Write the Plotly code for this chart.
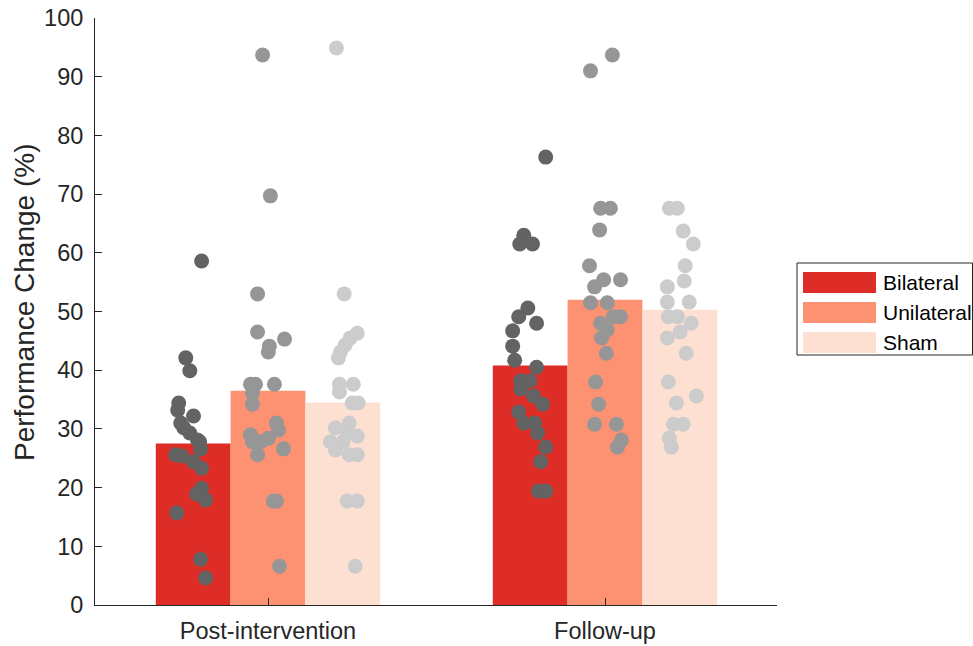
import plotly.graph_objects as go

# ---------------- data ----------------
categories = ["Post-intervention", "Follow-up"]
conditions = ["Bilateral", "Unilateral", "Sham"]

bar_means = {
    "Bilateral": [27.5, 40.8],
    "Unilateral": [36.5, 52.0],
    "Sham": [34.5, 50.3],
}

# individual points: values and horizontal jitter (x units, relative to bar centre)
post_bil_vals = [58.6, 42.1, 39.9, 34.4, 33.2, 32.2, 31.0, 30.2, 29.3, 28.1, 27.8, 26.6, 25.6, 25.4,
                 24.4, 23.3, 19.9, 18.9, 17.9, 15.7, 7.8, 4.6]
post_bil_jit = [0.025, -0.022, -0.010, -0.043, -0.046, 0.001, -0.037, -0.028, -0.010, 0.013, 0.019,
                0.022, -0.052, -0.034, 0.001, 0.025, 0.025, 0.010, 0.037, -0.049, 0.022, 0.037]

post_uni_vals = [93.7, 69.7, 53.0, 46.5, 45.3, 44.1, 43.1, 37.6, 37.6, 37.6, 36.1, 34.2, 31.0, 29.8,
                 29.0, 28.4, 27.8, 27.8, 26.6, 25.6, 17.7, 17.7, 6.6]
post_uni_jit = [-0.016, 0.007, -0.031, -0.031, 0.049, 0.004, 0.001, -0.052, -0.037, 0.019, -0.046,
                -0.046, 0.025, 0.031, -0.052, 0.001, -0.022, -0.046, 0.046, -0.031, 0.016, 0.025, 0.034]

post_sham_vals = [94.9, 53.0, 46.3, 45.5, 44.3, 43.1, 42.1, 37.6, 37.6, 36.3, 34.4, 34.4, 31.0, 30.2,
                  29.3, 28.8, 27.8, 27.8, 26.4, 25.6, 25.6, 17.7, 17.7, 6.6]
post_sham_jit = [-0.019, 0.004, 0.043, 0.022, 0.007, -0.007, -0.013, -0.010, 0.031, -0.010, 0.028,
                 0.046, 0.019, -0.022, 0.013, 0.043, -0.037, 0.001, -0.022, 0.019, 0.043, 0.013, 0.043, 0.037]

fu_bil_vals = [76.3, 63.0, 61.5, 61.5, 50.6, 49.1, 48.0, 46.7, 44.1, 41.7, 40.5, 38.2, 38.2, 36.8,
               35.6, 34.2, 32.9, 31.0, 31.0, 29.3, 26.9, 24.4, 19.4, 19.4]
fu_bil_jit = [0.046, -0.019, -0.031, 0.007, -0.007, -0.034, 0.019, -0.052, -0.052, -0.046, 0.019,
              -0.028, -0.001, -0.028, 0.010, 0.037, -0.034, -0.019, 0.013, 0.022, 0.046, 0.031, 0.025, 0.046]

fu_uni_vals = [93.7, 91.0, 67.6, 67.6, 63.9, 57.8, 55.4, 55.4, 54.2, 51.5, 51.5, 49.1, 49.1, 48.0,
               46.9, 45.5, 42.9, 38.0, 34.2, 30.8, 30.8, 28.1, 26.9]
fu_uni_jit = [0.022, -0.043, -0.013, 0.016, -0.016, -0.046, -0.004, 0.046, -0.031, -0.043, 0.007,
              0.025, 0.046, -0.013, 0.007, -0.010, 0.004, -0.028, -0.019, -0.031, 0.034, 0.049, 0.037]

fu_sham_vals = [67.6, 67.6, 63.7, 61.5, 57.8, 55.2, 54.2, 51.6, 51.6, 49.1, 49.1, 48.0, 46.5, 45.5,
                42.9, 38.0, 35.6, 34.4, 30.8, 30.8, 28.4, 26.9]
fu_sham_jit = [-0.031, -0.007, 0.010, 0.040, 0.016, 0.013, -0.037, 0.028, -0.037, -0.034, -0.007,
               0.034, 0.001, -0.037, 0.019, -0.034, 0.049, -0.010, -0.019, 0.010, -0.031, -0.025]

points = {
    ("Post-intervention", "Bilateral"): (post_bil_vals, post_bil_jit),
    ("Post-intervention", "Unilateral"): (post_uni_vals, post_uni_jit),
    ("Post-intervention", "Sham"): (post_sham_vals, post_sham_jit),
    ("Follow-up", "Bilateral"): (fu_bil_vals, fu_bil_jit),
    ("Follow-up", "Unilateral"): (fu_uni_vals, fu_uni_jit),
    ("Follow-up", "Sham"): (fu_sham_vals, fu_sham_jit),
}

yticks = [0, 10, 20, 30, 40, 50, 60, 70, 80, 90, 100]

# ---------------- style ----------------
bar_colors = {"Bilateral": "#de2d26", "Unilateral": "#fc9272", "Sham": "#fee0d2"}
dot_colors = {"Bilateral": "#636363", "Unilateral": "#969696", "Sham": "#cccccc"}
bar_width = 0.222
offsets = {"Bilateral": -0.222, "Unilateral": 0.0, "Sham": 0.222}
axis_col = "#262626"
FONT = "Liberation Sans, Arial, Helvetica, sans-serif"

W, H = 973, 646
L, R, T, B = 95, 777, 18, 605

fig = go.Figure()

cat_pos = {c: i + 1 for i, c in enumerate(categories)}

for cond in conditions:
    fig.add_trace(go.Bar(
        x=[cat_pos[c] + offsets[cond] for c in categories],
        y=bar_means[cond],
        width=bar_width,
        marker=dict(color=bar_colors[cond], line=dict(width=0)),
        name=cond,
        showlegend=False,
    ))

for cat in categories:
    for cond in conditions:
        vals, jit = points[(cat, cond)]
        xc = cat_pos[cat] + offsets[cond]
        fig.add_trace(go.Scatter(
            x=[xc + j for j in jit],
            y=vals,
            mode="markers",
            marker=dict(size=15, color=dot_colors[cond], line=dict(width=0)),
            showlegend=False,
            hoverinfo="y",
        ))

def px_x(p):
    return (p - L) / (R - L)

def px_y(p):
    return (B - p) / (B - T)

# custom legend (MATLAB-style wide swatches)
shapes = []
annotations = []
shapes.append(dict(type="rect", xref="paper", yref="paper",
                   x0=px_x(797), x1=px_x(972.5), y0=px_y(355), y1=px_y(263),
                   line=dict(color=axis_col, width=1), fillcolor="white", layer="above"))
for i, cond in enumerate(conditions):
    top = 272 + 30 * i
    shapes.append(dict(type="rect", xref="paper", yref="paper",
                       x0=px_x(803), x1=px_x(876), y0=px_y(top + 21), y1=px_y(top),
                       line=dict(width=0), fillcolor=bar_colors[cond], layer="above"))
    annotations.append(dict(xref="paper", yref="paper", x=px_x(881), y=px_y(top + 10.5),
                            text=cond, showarrow=False, xanchor="left", yanchor="middle",
                            font=dict(family=FONT, size=21, color="#000000")))

# y-axis title
annotations.append(dict(xref="paper", yref="paper", x=px_x(24), y=px_y(303),
                        text="Performance Change (%)", showarrow=False, textangle=-90,
                        xanchor="center", yanchor="middle",
                        font=dict(family=FONT, size=28, color=axis_col)))

x_lo = 1 - (268 - L) / 337.0
x_hi = 2 + (R - 605) / 337.0

fig.update_layout(
    width=W, height=H,
    margin=dict(l=L, r=W - R, t=T, b=H - B, pad=0, autoexpand=False),
    paper_bgcolor="white", plot_bgcolor="white",
    barmode="overlay",
    shapes=shapes, annotations=annotations,
    showlegend=False,
    font=dict(family=FONT, color=axis_col),
)
fig.update_xaxes(
    range=[x_lo, x_hi], tickvals=[1, 2], ticktext=categories, automargin=False,
    showgrid=False, zeroline=False, showline=True, linecolor=axis_col, linewidth=1,
    ticks="inside", ticklen=7, tickcolor=axis_col, tickwidth=1,
    tickfont=dict(family=FONT, size=23.5, color=axis_col),
    ticklabelstandoff=5,
)
fig.update_yaxes(
    range=[0, 100], tickvals=yticks, automargin=False,
    showgrid=False, zeroline=False, showline=True, linecolor=axis_col, linewidth=1,
    ticks="inside", ticklen=7, tickcolor=axis_col, tickwidth=1,
    tickfont=dict(family=FONT, size=23.5, color=axis_col),
    ticklabelstandoff=6,
)

fig.write_html(
    "out.html",
    config={"displayModeBar": False},
    post_script="document.body.style.margin='0';document.body.style.overflow='hidden';",
)
